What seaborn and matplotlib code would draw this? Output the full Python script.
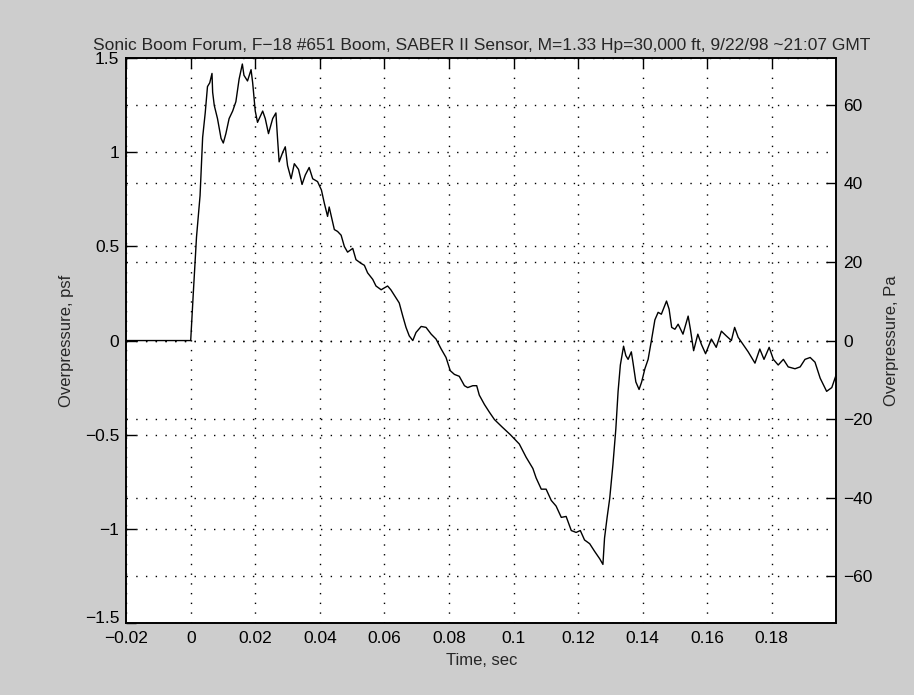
import numpy as np
import pandas as pd
import matplotlib
matplotlib.use('Agg')
import matplotlib.pyplot as plt
import matplotlib.transforms as mtransforms
import seaborn as sns

# Traced boom signature (time in s, overpressure in psf)
time_s = [
    -0.02, -0.01, 0.0, 0.0008, 0.0018, 0.0029, 0.0037, 0.0045, 0.0052, 0.0059,
    0.0066, 0.0068, 0.0073, 0.0083, 0.0094, 0.0101, 0.0109, 0.0119, 0.013, 0.014,
    0.015, 0.016, 0.0165, 0.0176, 0.0187, 0.0192, 0.020, 0.0207, 0.0223, 0.0231,
    0.0241, 0.0254, 0.0264, 0.0269, 0.0274, 0.0285, 0.0293, 0.030, 0.0311, 0.0321,
    0.0334, 0.0345, 0.0355, 0.0367, 0.0378, 0.0393, 0.0405, 0.0414, 0.0424, 0.0429,
    0.0437, 0.0445, 0.0455, 0.0466, 0.0476, 0.0486, 0.0502, 0.0512, 0.0528, 0.0538,
    0.0548, 0.0564, 0.0574, 0.059, 0.061, 0.062, 0.0646, 0.0657, 0.0667, 0.0677,
    0.0688, 0.0698, 0.0714, 0.0729, 0.0745, 0.076, 0.0776, 0.0791, 0.0804, 0.0817,
    0.0832, 0.0848, 0.0858, 0.0874, 0.0886, 0.0894, 0.091, 0.0925, 0.0941, 0.0965,
    0.099, 0.1018, 0.1039, 0.106, 0.107, 0.1086, 0.1101, 0.1117, 0.1132, 0.1148,
    0.1163, 0.1179, 0.1194, 0.1207, 0.122, 0.1236, 0.1251, 0.1267, 0.1277, 0.1282,
    0.129, 0.1298, 0.1308, 0.1317, 0.1324, 0.1331, 0.1341, 0.1348, 0.1355, 0.1365,
    0.137, 0.1379, 0.1389, 0.1397, 0.1407, 0.1417, 0.1428, 0.1438, 0.1448, 0.1458,
    0.1467, 0.1474, 0.1482, 0.149, 0.150, 0.151, 0.1525, 0.1541, 0.1548, 0.1558,
    0.1571, 0.1582, 0.1595, 0.1613, 0.1628, 0.1644, 0.1659, 0.1675, 0.1685, 0.1696,
    0.1711, 0.1727, 0.1748, 0.1763, 0.1776, 0.1792, 0.1805, 0.182, 0.1836, 0.1851,
    0.1872, 0.1888, 0.1903, 0.1919, 0.1934, 0.195, 0.197, 0.1986, 0.2,
]
overpressure_psf = [
    0.0, 0.0, 0.0, 0.25, 0.55, 0.77, 1.08, 1.21, 1.35, 1.37,
    1.42, 1.32, 1.25, 1.18, 1.075, 1.05, 1.10, 1.18, 1.22, 1.27,
    1.39, 1.47, 1.41, 1.38, 1.44, 1.37, 1.22, 1.16, 1.22, 1.18,
    1.10, 1.18, 1.21, 1.075, 0.95, 1.00, 1.03, 0.93, 0.86, 0.94,
    0.91, 0.83, 0.88, 0.92, 0.86, 0.845, 0.80, 0.73, 0.66, 0.71,
    0.65, 0.59, 0.58, 0.56, 0.50, 0.47, 0.49, 0.43, 0.41, 0.40,
    0.36, 0.325, 0.29, 0.27, 0.29, 0.27, 0.20, 0.13, 0.07, 0.025,
    0.0, 0.043, 0.075, 0.07, 0.034, 0.008, -0.045, -0.09, -0.16, -0.18,
    -0.19, -0.24, -0.25, -0.24, -0.24, -0.29, -0.34, -0.38, -0.42, -0.46,
    -0.50, -0.55, -0.62, -0.68, -0.73, -0.79, -0.79, -0.85, -0.88, -0.94,
    -0.935, -1.01, -1.02, -1.01, -1.06, -1.08, -1.12, -1.16, -1.19, -1.05,
    -0.94, -0.84, -0.66, -0.47, -0.27, -0.13, -0.03, -0.08, -0.10, -0.06,
    -0.115, -0.22, -0.26, -0.22, -0.15, -0.10, 0.008, 0.11, 0.15, 0.14,
    0.18, 0.21, 0.167, 0.07, 0.06, 0.087, 0.034, 0.13, 0.06, -0.054,
    0.034, -0.02, -0.07, 0.008, -0.036, 0.05, 0.025, 0.0, 0.07, 0.017,
    -0.02, -0.06, -0.12, -0.045, -0.10, -0.036, -0.10, -0.13, -0.10, -0.14,
    -0.15, -0.14, -0.10, -0.09, -0.115, -0.20, -0.27, -0.25, -0.18,
]

x_ticks = [-0.02, 0, 0.02, 0.04, 0.06, 0.08, 0.1, 0.12, 0.14, 0.16, 0.18]
x_labels = ['-0.02', '0', '0.02', '0.04', '0.06', '0.08', '0.1', '0.12', '0.14', '0.16', '0.18']
psf_ticks = [-1.5, -1, -0.5, 0, 0.5, 1, 1.5]
psf_labels = ['-1.5', '-1', '-0.5', '0', '0.5', '1', '1.5']
pa_ticks = [-60, -40, -20, 0, 20, 40, 60]
PSF_TO_PA = 47.88

title = 'Sonic Boom Forum, F\u221218 #651 Boom, SABER II Sensor, M=1.33 Hp=30,000 ft, 9/22/98 ~21:07 GMT'

df = pd.DataFrame({'t': time_s, 'p': overpressure_psf})

sns.set_style('white')
plt.rcParams['font.family'] = ['Liberation Sans', 'DejaVu Sans']
plt.rcParams['axes.unicode_minus'] = True

fig = plt.figure(figsize=(9.14, 6.95), dpi=100, facecolor='#cdcdcd')
ax = fig.add_axes([0.138, 0.104, 0.777, 0.812])
ax.set_facecolor('white')

sns.lineplot(data=df, x='t', y='p', ax=ax, color='black', linewidth=1.0)

fs = 12.5
ax.set_xlim(-0.02, 0.2)
ax.set_ylim(-1.5, 1.5)
ax.set_xticks(x_ticks)
ax.set_xticklabels([l.replace('-', '\u2212') for l in x_labels])
ax.set_yticks(psf_ticks)
ax.set_yticklabels([l.replace('-', '\u2212') for l in psf_labels])
ax.tick_params(axis='x', direction='in', length=7, width=1, top=True, labelsize=fs,
               colors='black', pad=6)
ax.tick_params(axis='y', direction='in', length=7, width=1, labelsize=fs,
               colors='black', pad=5)
ax.grid(True, color='black', linestyle=(0, (1, 6)), linewidth=1.0)

# nudge the bottom psf label up a little, as in the reference
lbl = ax.get_yticklabels()[0]
lbl.set_transform(lbl.get_transform() + mtransforms.ScaledTranslation(0, 4 / 72, fig.dpi_scale_trans))

for sp in ax.spines.values():
    sp.set_color('black')
    sp.set_linewidth(1.2)

ax.set_xlabel('Time, sec', fontsize=fs - 0.5, labelpad=5)
ax.set_ylabel('Overpressure, psf', fontsize=fs - 0.5, labelpad=8)
ax.set_title(title, fontsize=fs, pad=6)

ax2 = ax.twinx()
ax2.set_ylim(-1.5 * PSF_TO_PA, 1.5 * PSF_TO_PA)
ax2.set_yticks(pa_ticks)
ax2.set_yticklabels([str(v).replace('-', '\u2212') for v in pa_ticks])
ax2.tick_params(direction='in', length=7, width=1, labelsize=fs, colors='black', pad=5)
ax2.grid(True, axis='y', color='black', linestyle=(0, (1, 6)), linewidth=1.0)
ax2.set_ylabel('Overpressure, Pa', fontsize=fs - 0.5, labelpad=8)
for sp in ax2.spines.values():
    sp.set_color('black')
    sp.set_linewidth(1.2)

fig.savefig('out.png', dpi=100, facecolor=fig.get_facecolor())
